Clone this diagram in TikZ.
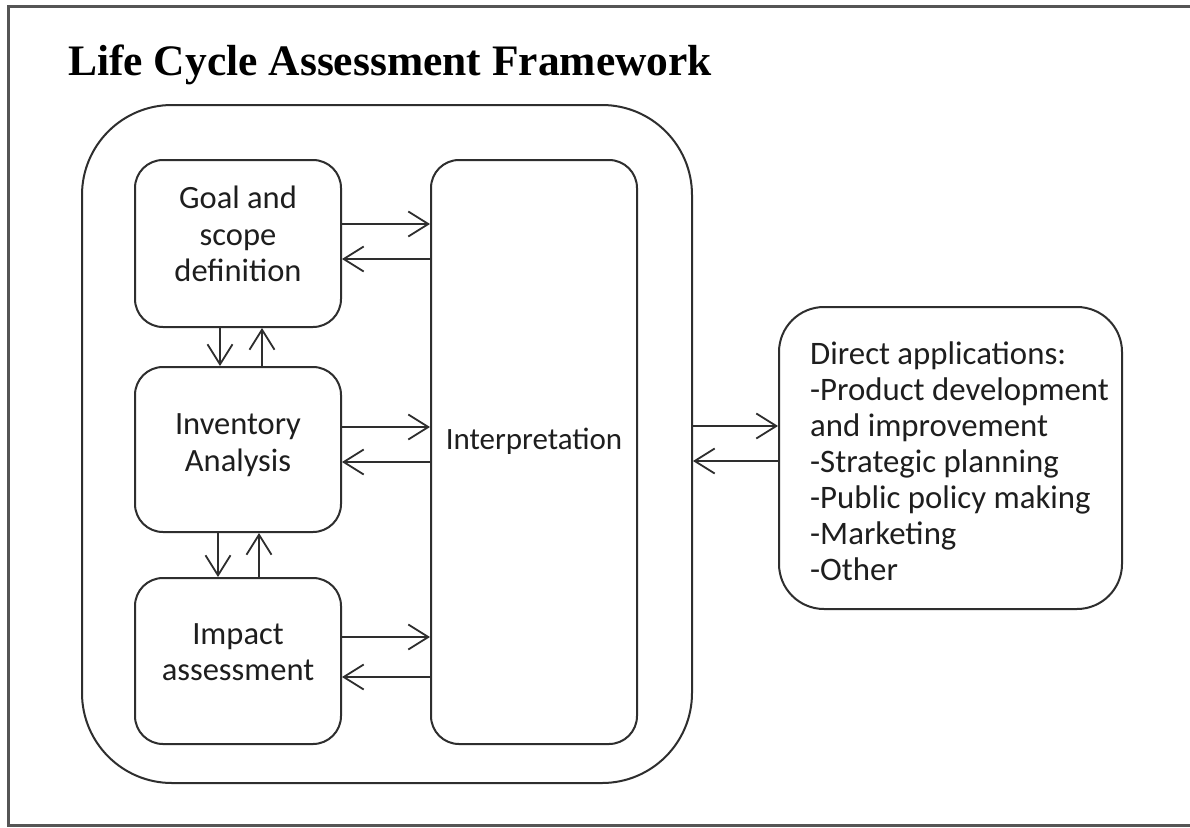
\documentclass[tikz,border=0pt]{standalone}
\usepackage{fontspec}
\setmainfont{Carlito}
\newfontfamily\titlefont{Liberation Serif}
\usetikzlibrary{arrows.meta}
\definecolor{boxcol}{HTML}{2E2E2E}
\definecolor{txtcol}{HTML}{1E1E1E}
\definecolor{framecol}{HTML}{555555}
\begin{document}
\begin{tikzpicture}[x=1pt,y=-1pt,
  box/.style={draw=boxcol, line width=2pt, rounded corners=28pt, inner sep=0pt},
  lbl/.style={font=\fontsize{32.5}{36.5}\selectfont, text=txtcol, align=center, inner sep=0pt},
  arr/.style={draw=boxcol, line width=1.8pt, -{Straight Barb[length=20pt,width=25pt,line width=1.8pt]}}]
\useasboundingbox (0,0) rectangle (1190,827);
\fill[white] (0,0) rectangle (1190,827);
\draw[framecol, line width=3pt] (8,6) rectangle (1210,825);
\node[anchor=base west, inner sep=0pt, font=\titlefont\bfseries\fontsize{43.5}{50}\selectfont, text=black] (title) at (68,75) {Life Cycle Assessment Framework};
% outer container
\node[box, rounded corners=90pt, minimum width=610pt, minimum height=678pt] (outer) at (387,444) {};
% inner boxes
\node[box, minimum width=206pt, minimum height=167pt] (goal) at (238,243.5) {};
\node[box, minimum width=206pt, minimum height=165pt] (inv) at (238,449.5) {};
\node[box, minimum width=206pt, minimum height=166pt] (imp) at (238,661) {};
\node[box, minimum width=206pt, minimum height=584pt] (interp) at (534,452) {};
\node[box, rounded corners=45pt, minimum width=343pt, minimum height=302pt] (direct) at (950.5,458) {};
% labels
\node[lbl] (goalt) at (238,234) {Goal and\\scope\\definition};
\node[lbl] (invt) at (238,445) {Inventory\\Analysis};
\node[lbl] (impt) at (238,652) {Impact\\assessment};
\node[lbl, font=\fontsize{31}{36}\selectfont] (interpt) at (534,441) {Interpretation};
\node[lbl, font=\fontsize{32.8}{36}\selectfont, align=left, anchor=west] (directt) at (810,461) {Direct applications:\\-Product development\\and improvement\\-Strategic planning\\-Public policy making\\-Marketing\\-Other};
% horizontal arrows
\draw[arr] (goal.east |- 0,224) -- (interp.west |- 0,224);
\draw[arr] (interp.west |- 0,259) -- (goal.east |- 0,259);
\draw[arr] (inv.east |- 0,427) -- (interp.west |- 0,427);
\draw[arr] (interp.west |- 0,462) -- (inv.east |- 0,462);
\draw[arr] (imp.east |- 0,637) -- (interp.west |- 0,637);
\draw[arr] (interp.west |- 0,677) -- (imp.east |- 0,677);
\draw[arr] (outer.east |- 0,426) -- (direct.west |- 0,426);
\draw[arr] (direct.west |- 0,461) -- (outer.east |- 0,461);
% vertical arrows
\draw[arr] (goal.south -| 220,0) -- (inv.north -| 220,0);
\draw[arr] (inv.north -| 262,0) -- (goal.south -| 262,0);
\draw[arr] (inv.south -| 218,0) -- (imp.north -| 218,0);
\draw[arr] (imp.north -| 259,0) -- (inv.south -| 259,0);
\end{tikzpicture}
\end{document}
